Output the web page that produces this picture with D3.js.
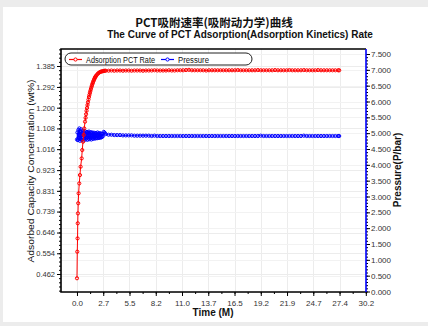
<!DOCTYPE html>
<html><head><meta charset="utf-8">
<script src="https://cdn.jsdelivr.net/npm/d3@7"></script>
<style>
html,body{margin:0;padding:0;background:#ececec;}
svg{display:block;}
</style></head>
<body>
<svg id="c" width="428" height="326"></svg>
<script>
// ---------- data ----------
const titleCN = "PCT吸附速率(吸附动力学)曲线";
const titleEN = "The Curve of PCT Adsorption(Adsorption Kinetics) Rate";
const xTickLabels = ["0.0","2.7","5.5","8.2","11.0","13.7","16.5","19.2","21.9","24.7","27.4","30.2"];
const xTickStep = 2.7436;
const leftTickLabels = ["0.462","0.554","0.646","0.739","0.831","0.923","1.016","1.108","1.200","1.292","1.385"];
const rightTickLabels = ["0.000","0.500","1.000","1.500","2.000","2.500","3.000","3.500","4.000","4.500","5.000","5.500","6.000","6.500","7.000","7.500"];

// adsorption rise part
const riseTime = [0.00,0.03,0.06,0.08,0.10,0.13,0.17,0.24,0.31,0.38,0.49,0.55,0.63,0.70,0.76,0.84,0.90,0.95,1.00,1.05,1.10,1.15,1.20,1.25,1.30,1.35,1.40,1.45,1.50,1.55,1.60,1.65,1.70,1.75,1.80,1.85,1.90,1.95,2.00,2.10,2.20,2.30,2.40,2.50,2.60,2.70,2.80,2.90,3.00];
const riseRate = [0.443,0.561,0.620,0.687,0.731,0.776,0.820,0.864,0.901,0.938,0.975,1.012,1.049,1.079,1.108,1.138,1.155,1.171,1.186,1.199,1.212,1.224,1.236,1.247,1.257,1.266,1.274,1.282,1.290,1.297,1.304,1.310,1.316,1.321,1.326,1.331,1.335,1.339,1.342,1.347,1.352,1.355,1.358,1.360,1.361,1.362,1.363,1.364,1.364];

// pressure noisy part
const pressTime0 = [0.00,0.05,0.10,0.15,0.20,0.25,0.30,0.35,0.40,0.45,0.50,0.55,0.60,0.65,0.70,0.75,0.80,0.85,0.90,0.95,1.00,1.05,1.10,1.15,1.20,1.25,1.30,1.35,1.40,1.45,1.50,1.55,1.60,1.65,1.70,1.75,1.80,1.85,1.90,1.95,2.00,2.05,2.10,2.15,2.20,2.25,2.30,2.35,2.40,2.45,2.50,2.55,2.60,2.65,2.70,2.80,2.90,3.00];
const pressure0 = [4.80,5.02,4.78,5.10,4.85,5.15,4.76,5.05,4.82,5.12,4.79,5.00,4.88,5.08,4.77,5.03,4.84,5.06,4.80,4.98,4.86,5.04,4.79,5.01,4.83,5.05,4.81,4.99,4.85,5.03,4.80,5.00,4.84,5.02,4.82,4.98,4.86,5.01,4.83,5.00,4.85,4.99,4.84,5.02,4.86,4.98,4.85,5.00,4.87,4.99,4.86,4.98,4.88,4.97,4.90,5.04,5.01,4.97];

// plateau (shared sample times)
const flatTime = [3.3,3.6,3.9,4.2,4.5,4.8,5.1,5.4,5.7,6.0,6.3,6.6,6.9,7.2,7.5,7.8,8.1,8.4,8.7,9.0,9.3,9.6,9.9,10.2,10.5,10.8,11.1,11.4,11.7,12.0,12.3,12.6,12.9,13.2,13.5,13.8,14.1,14.4,14.7,15.0,15.3,15.6,15.9,16.2,16.5,16.8,17.1,17.4,17.7,18.0,18.3,18.6,18.9,19.2,19.5,19.8,20.1,20.4,20.7,21.0,21.3,21.6,21.9,22.2,22.5,22.8,23.1,23.4,23.7,24.0,24.3,24.6,24.9,25.2,25.5,25.8,26.1,26.4,26.7,27.0,27.3,27.4];
const flatRate = [1.364,1.365,1.364,1.365,1.365,1.364,1.365,1.365,1.364,1.365,1.365,1.365,1.364,1.365,1.365,1.365,1.366,1.365,1.365,1.365,1.365,1.366,1.365,1.365,1.366,1.366,1.366,1.367,1.368,1.366,1.366,1.366,1.366,1.366,1.365,1.366,1.366,1.366,1.366,1.366,1.366,1.366,1.366,1.366,1.366,1.367,1.366,1.366,1.366,1.366,1.366,1.366,1.367,1.366,1.366,1.366,1.366,1.366,1.367,1.366,1.366,1.366,1.366,1.367,1.366,1.366,1.366,1.366,1.367,1.366,1.366,1.366,1.366,1.367,1.366,1.366,1.366,1.366,1.366,1.366,1.366,1.366];
const flatPress = [4.95,4.95,4.94,4.94,4.94,4.93,4.93,4.93,4.93,4.92,4.92,4.92,4.92,4.92,4.92,4.91,4.92,4.91,4.91,4.91,4.91,4.91,4.91,4.91,4.91,4.91,4.91,4.91,4.91,4.91,4.91,4.91,4.91,4.91,4.91,4.91,4.91,4.91,4.91,4.91,4.91,4.91,4.91,4.91,4.91,4.91,4.91,4.91,4.91,4.91,4.91,4.91,4.91,4.92,4.91,4.91,4.91,4.91,4.91,4.91,4.91,4.91,4.91,4.91,4.91,4.91,4.91,4.91,4.92,4.91,4.91,4.91,4.91,4.91,4.91,4.91,4.91,4.91,4.91,4.91,4.91,4.91];

const seriesNames = ["Adsorption PCT Rate","Pressure"];
const seriesColors = ["#ff0000","#0000ff"];

// ---------- build ----------
const rateData = riseTime.map((t,i)=>[t,riseRate[i]]).concat(flatTime.map((t,i)=>[t,flatRate[i]]));
const pressData = pressTime0.map((t,i)=>[t,pressure0[i]]).concat(flatTime.map((t,i)=>[t,flatPress[i]]));

const svg = d3.select("#c");
const FONT = "'Liberation Sans', Arial, sans-serif";
// card
svg.append("rect").attr("x",3).attr("y",7).attr("width",425).attr("height",315).attr("fill","#fff");

const L=61,R=366,T=49,B=292;
const x = d3.scaleLinear().domain([-1.67,30.2]).range([L,R]);
const yL = d3.scaleLinear().domain([0.462,1.385]).range([274,66]);
const yR = d3.scaleLinear().domain([0,7.5]).range([291.5,54]);

const xTicks = xTickLabels.map((d,i)=>i*xTickStep);
const lTicks = leftTickLabels.map(d=>+d);
const rTicks = rightTickLabels.map(d=>+d);

// grid
const grid = svg.append("g").attr("stroke","#ececec").attr("stroke-width",1);
xTicks.forEach(v=>grid.append("line").attr("x1",Math.round(x(v))+0.5).attr("x2",Math.round(x(v))+0.5).attr("y1",T).attr("y2",B));
lTicks.forEach(v=>grid.append("line").attr("x1",L).attr("x2",R).attr("y1",Math.round(yL(v))+0.5).attr("y2",Math.round(yL(v))+0.5));
rTicks.forEach(v=>grid.append("line").attr("x1",L).attr("x2",R).attr("y1",Math.round(yR(v))+0.5).attr("y2",Math.round(yR(v))+0.5).attr("stroke","#f2f2f2"));

// axes
function styleAxis(g,color,fs){
  g.selectAll("text").attr("font-family",FONT).attr("font-size",(fs||8)+"px").attr("fill","#333");
  g.selectAll("line").attr("stroke",color);
  g.select(".domain").remove();
}
const xMinor = d3.range(0,23).map(i=>i*xTickStep/2).filter(v=>v<=30.2);
svg.append("g").attr("transform",`translate(0,${B})`).call(d3.axisBottom(x).tickValues(xMinor).tickSize(2).tickFormat("")).call(g=>styleAxis(g,"#000"));
svg.append("g").attr("transform",`translate(0,${B})`).call(d3.axisBottom(x).tickValues(xTicks).tickSize(4).tickPadding(4).tickFormat((d,i)=>xTickLabels[i])).call(g=>styleAxis(g,"#000"));

const lMinor = d3.range(-5,56).map(i=>0.462+i*0.0923/5).filter(v=>yL(v)>=T&&yL(v)<=B);
svg.append("g").attr("transform",`translate(${L},0)`).call(d3.axisLeft(yL).tickValues(lMinor).tickSize(2).tickFormat("")).call(g=>styleAxis(g,"#000"));
svg.append("g").attr("transform",`translate(${L},0)`).call(d3.axisLeft(yL).tickValues(lTicks).tickSize(4).tickPadding(2).tickFormat((d,i)=>leftTickLabels[i])).call(g=>styleAxis(g,"#000",7.5));

const rMinor = d3.range(0,76).map(i=>i*0.1);
svg.append("g").attr("transform",`translate(${R},0)`).call(d3.axisRight(yR).tickValues(rMinor).tickSize(2).tickFormat("")).call(g=>styleAxis(g,"#000"));
svg.append("g").attr("transform",`translate(${R},0)`).call(d3.axisRight(yR).tickValues(rTicks).tickSize(4).tickPadding(1).tickFormat((d,i)=>rightTickLabels[i])).call(g=>styleAxis(g,"#000"));

// frame
svg.append("path").attr("d",`M${R},${T}H${L}V${B}H${R}`).attr("fill","none").attr("stroke","#000").attr("stroke-width",1.6);
svg.append("line").attr("x1",R).attr("x2",R).attr("y1",T).attr("y2",B).attr("stroke","#0000ff").attr("stroke-width",1.6);

// series
svg.append("clipPath").attr("id","pc").append("rect").attr("x",L).attr("y",T).attr("width",R-L).attr("height",B-T);
const plot = svg.append("g").attr("clip-path","url(#pc)");
function drawSeries(data,ys,color){
  plot.append("path").datum(data).attr("fill","none").attr("stroke",color).attr("stroke-width",1)
    .attr("d",d3.line().x(d=>x(d[0])).y(d=>ys(d[1])));
  plot.append("g").selectAll("circle").data(data).join("circle")
    .attr("cx",d=>x(d[0])).attr("cy",d=>ys(d[1])).attr("r",1.6)
    .attr("fill","none").attr("stroke",color).attr("stroke-width",1);
}
drawSeries(pressData,yR,seriesColors[1]);
drawSeries(rateData,yL,seriesColors[0]);

// legend
svg.append("rect").attr("x",65).attr("y",53).attr("width",187).attr("height",12).attr("rx",6).attr("ry",6)
  .attr("fill","#fff").attr("stroke","#222").attr("stroke-width",1);
const legX = [69,161];
const legTextW = [69,31];
seriesNames.forEach((n,i)=>{
  const g = svg.append("g");
  g.append("line").attr("x1",legX[i]).attr("x2",legX[i]+13).attr("y1",59.5).attr("y2",59.5).attr("stroke",seriesColors[i]).attr("stroke-width",1.2);
  g.append("circle").attr("cx",legX[i]+6.5).attr("cy",59.5).attr("r",1.6).attr("fill","#fff").attr("stroke",seriesColors[i]);
  g.append("text").attr("x",legX[i]+17).attr("y",62.5).attr("font-family",FONT).attr("font-size","8.5px").attr("fill","#111")
    .attr("textLength",legTextW[i]).attr("lengthAdjust","spacingAndGlyphs").text(n);
});

// titles
svg.append("text").attr("x",214).attr("y",27).attr("text-anchor","middle").attr("font-family","'Noto Sans CJK SC', "+FONT)
  .attr("font-weight","bold").attr("font-size","11.5px").attr("fill","#111").text(titleCN);
svg.append("text").attr("x",240).attr("y",38).attr("text-anchor","middle").attr("font-family",FONT)
  .attr("font-weight","bold").attr("font-size","10px").attr("fill","#111").text(titleEN);
// axis titles
svg.append("text").attr("x",213).attr("y",316).attr("text-anchor","middle").attr("font-family",FONT)
  .attr("font-weight","bold").attr("font-size","10px").attr("fill","#111").text("Time (M)");
svg.append("text").attr("transform","translate(33.5,171) rotate(-90)").attr("text-anchor","middle").attr("font-family",FONT)
  .attr("font-size","9.5px").attr("fill","#111").attr("textLength",183).attr("lengthAdjust","spacingAndGlyphs")
  .text("Adsorbed Capacity Concentration (wt%)");
svg.append("text").attr("transform","translate(401,170) rotate(-90)").attr("text-anchor","middle").attr("font-family",FONT)
  .attr("font-weight","bold").attr("font-size","10px").attr("fill","#111").text("Pressure(P/bar)");
</script>
</body></html>
